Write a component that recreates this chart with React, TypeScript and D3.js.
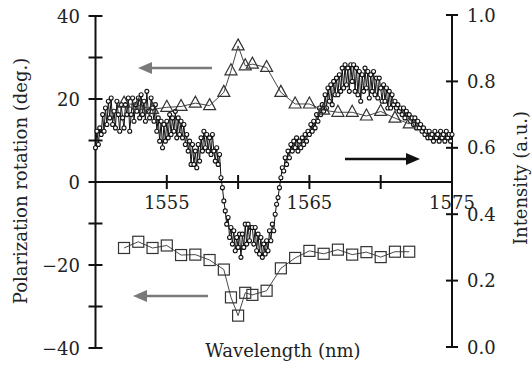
import React, { useEffect, useRef } from "react";
import * as d3 from "d3";

// wavelengths (nm) of the polarization-rotation markers
const markerWavelengths = [
  1552, 1553, 1554, 1555, 1556, 1557, 1558, 1559, 1559.5, 1560, 1560.5, 1561,
  1562, 1563, 1564, 1565, 1566, 1567, 1568, 1569, 1570, 1571, 1572,
];
// triangles, deg.
const rotationTriangles = [
  19.0, 18.5, 17.5, 18.0, 18.2, 19.0, 18.4, 21.6, 26.8, 32.8, 28.0, 28.4, 27.6,
  21.6, 18.8, 18.8, 17.3, 16.8, 16.8, 15.9, 17.0, 15.4, 14.0,
];
// squares, deg.
const rotationSquares = [
  -15.9, -14.4, -15.9, -15.3, -17.6, -17.5, -18.8, -21.1, -27.8, -32.2, -26.7,
  -27.2, -26.2, -20.8, -18.3, -16.6, -17.3, -16.3, -17.5, -16.9, -18.1, -16.8,
  -16.8,
];

// transmitted intensity scan, 1550 -> 1575 nm every 0.1 nm
const scanStart = 1550;
const scanStep = 0.1;
const scanIntensity = [
  0.60, 0.65, 0.61, 0.66, 0.64, 0.70, 0.65, 0.72, 0.67, 0.74, // 1550
  0.69, 0.75, 0.67, 0.71, 0.66, 0.74, 0.70, 0.65, 0.73, 0.69, // 1551
  0.66, 0.73, 0.70, 0.75, 0.65, 0.70, 0.75, 0.68, 0.73, 0.71, // 1552
  0.75, 0.69, 0.76, 0.70, 0.74, 0.68, 0.77, 0.71, 0.69, 0.75, // 1553
  0.72, 0.68, 0.73, 0.65, 0.69, 0.62, 0.68, 0.60, 0.67, 0.62, // 1554
  0.68, 0.63, 0.70, 0.64, 0.69, 0.65, 0.71, 0.63, 0.69, 0.64, // 1555
  0.68, 0.63, 0.67, 0.61, 0.64, 0.59, 0.62, 0.55, 0.61, 0.55, // 1556
  0.59, 0.54, 0.61, 0.56, 0.63, 0.59, 0.65, 0.60, 0.64, 0.59, // 1557
  0.63, 0.58, 0.64, 0.59, 0.56, 0.60, 0.55, 0.58, 0.51, 0.48, // 1558
  0.44, 0.41, 0.37, 0.39, 0.33, 0.36, 0.31, 0.35, 0.29, 0.33, // 1559
  0.30, 0.34, 0.27, 0.34, 0.30, 0.37, 0.31, 0.37, 0.32, 0.36, // 1560
  0.36, 0.31, 0.36, 0.29, 0.34, 0.28, 0.33, 0.27, 0.31, 0.28, // 1561
  0.32, 0.29, 0.35, 0.32, 0.37, 0.35, 0.40, 0.43, 0.45, 0.48, // 1562
  0.51, 0.54, 0.53, 0.57, 0.55, 0.59, 0.57, 0.61, 0.59, 0.62, // 1563
  0.60, 0.63, 0.59, 0.62, 0.60, 0.63, 0.61, 0.64, 0.62, 0.65, // 1564
  0.64, 0.67, 0.65, 0.68, 0.66, 0.70, 0.68, 0.72, 0.70, 0.73, // 1565
  0.71, 0.76, 0.72, 0.78, 0.74, 0.79, 0.73, 0.80, 0.76, 0.81, // 1566
  0.76, 0.82, 0.77, 0.84, 0.78, 0.85, 0.79, 0.84, 0.77, 0.85, // 1567
  0.80, 0.85, 0.77, 0.84, 0.76, 0.83, 0.74, 0.82, 0.77, 0.84, // 1568
  0.78, 0.83, 0.75, 0.82, 0.77, 0.83, 0.76, 0.81, 0.75, 0.81, // 1569
  0.78, 0.74, 0.79, 0.74, 0.78, 0.72, 0.77, 0.72, 0.76, 0.73, // 1570
  0.74, 0.72, 0.73, 0.71, 0.72, 0.70, 0.72, 0.69, 0.71, 0.70, // 1571
  0.70, 0.68, 0.69, 0.67, 0.69, 0.66, 0.68, 0.66, 0.67, 0.65, // 1572
  0.66, 0.64, 0.65, 0.63, 0.65, 0.63, 0.64, 0.62, 0.65, 0.63, // 1573
  0.64, 0.62, 0.65, 0.63, 0.64, 0.62, 0.65, 0.63, 0.64, 0.62, // 1574
  0.64,
];

const rotationTicks = [-40, -30, -20, -10, 0, 10, 20, 30, 40];
const rotationLabels = [-40, -20, 0, 20, 40];
const intensityTicks = [0, 0.2, 0.4, 0.6, 0.8, 1.0];
const wavelengthTicks = [1555, 1560, 1565, 1570, 1575];
const wavelengthLabels = [1555, 1565, 1575];

const FONT = "'DejaVu Serif', 'Liberation Serif', serif";

export default function App() {
  const svgRef = useRef<SVGSVGElement>(null);

  useEffect(() => {
    const svg = d3.select(svgRef.current);
    svg.selectAll("*").remove();

    const x = d3.scaleLinear().domain([1550, 1575]).range([95.5, 452]);
    const yL = d3.scaleLinear().domain([-40, 40]).range([348, 16]);
    const yR = d3.scaleLinear().domain([0, 1]).range([347, 15]);

    const scan = scanIntensity.map((v, i) => ({ wl: scanStart + i * scanStep, v }));
    const tri = markerWavelengths.map((wl, i) => ({ wl, v: rotationTriangles[i] }));
    const sq = markerWavelengths.map((wl, i) => ({ wl, v: rotationSquares[i] }));

    // axes
    const axes = svg.append("g").attr("stroke", "#111").attr("stroke-width", 2);
    axes.append("line").attr("x1", x(1550)).attr("x2", x(1550)).attr("y1", yL(40)).attr("y2", yL(-40));
    axes.append("line").attr("x1", x(1575)).attr("x2", x(1575)).attr("y1", yR(1)).attr("y2", yR(0));
    axes.append("line").attr("x1", x(1550)).attr("x2", x(1575)).attr("y1", yL(0)).attr("y2", yL(0));

    axes.selectAll(".tl").data(rotationTicks).join("line")
      .attr("x1", x(1550) - 7).attr("x2", x(1550) + 7)
      .attr("y1", (d) => yL(d)).attr("y2", (d) => yL(d));
    axes.selectAll(".tr").data(intensityTicks).join("line")
      .attr("x1", x(1575) - 6).attr("x2", x(1575) + 6)
      .attr("y1", (d) => yR(d)).attr("y2", (d) => yR(d));
    axes.selectAll(".tx").data(wavelengthTicks).join("line")
      .attr("x1", (d) => x(d)).attr("x2", (d) => x(d))
      .attr("y1", yL(0) - 7).attr("y2", yL(0) + 7);

    const labels = svg.append("g").attr("font-family", FONT).attr("font-size", 18).attr("fill", "#222");
    labels.selectAll(".ll").data(rotationLabels).join("text")
      .attr("x", 80).attr("y", (d) => yL(d) + 6.5).attr("text-anchor", "end")
      .text((d) => (d < 0 ? "\u2212" + Math.abs(d) : String(d)));
    labels.selectAll(".rl").data(intensityTicks).join("text")
      .attr("x", 467).attr("y", (d) => yR(d) + 6.5)
      .text((d) => d.toFixed(1));
    labels.selectAll(".xl").data(wavelengthLabels).join("text")
      .attr("x", (d) => x(d)).attr("y", 209).attr("text-anchor", "middle")
      .text((d) => String(d));

    labels.append("text").attr("transform", "translate(27,181) rotate(-90)")
      .attr("text-anchor", "middle").text("Polarization rotation (deg.)");
    labels.append("text").attr("transform", "translate(527,178) rotate(-90)")
      .attr("text-anchor", "middle").text("Intensity (a.u.)");
    labels.append("text").attr("x", 283).attr("y", 357)
      .attr("text-anchor", "middle").text("Wavelength (nm)");

    // intensity scan: open circles joined by a line
    const lineR = d3.line<{ wl: number; v: number }>().x((d) => x(d.wl)).y((d) => yR(d.v));
    svg.append("path").datum(scan).attr("d", lineR)
      .attr("fill", "none").attr("stroke", "#111").attr("stroke-width", 1);
    svg.append("g").selectAll("circle").data(scan).join("circle")
      .attr("cx", (d) => x(d.wl)).attr("cy", (d) => yR(d.v)).attr("r", 2)
      .attr("fill", "white").attr("stroke", "#111").attr("stroke-width", 1.1);

    // rotation markers
    const lineL = d3.line<{ wl: number; v: number }>().x((d) => x(d.wl)).y((d) => yL(d.v));
    svg.append("path").datum(tri).attr("d", lineL)
      .attr("fill", "none").attr("stroke", "#333").attr("stroke-width", 0.9);
    svg.append("g").selectAll("path").data(tri).join("path")
      .attr("d", (d) => {
        const cx = x(d.wl), cy = yL(d.v);
        return `M${cx},${cy - 7}L${cx + 6},${cy + 4}L${cx - 6},${cy + 4}Z`;
      })
      .attr("fill", "none").attr("stroke", "#333").attr("stroke-width", 1.2);

    svg.append("path").datum(sq).attr("d", lineL)
      .attr("fill", "none").attr("stroke", "#333").attr("stroke-width", 0.9);
    svg.append("g").selectAll("rect").data(sq).join("rect")
      .attr("x", (d) => x(d.wl) - 5.5).attr("y", (d) => yL(d.v) - 5.5)
      .attr("width", 11).attr("height", 11)
      .attr("fill", "none").attr("stroke", "#333").attr("stroke-width", 1.2);

    // direction arrows
    const arrow = (x1: number, x2: number, y: number, color: string) => {
      const dir = Math.sign(x2 - x1);
      svg.append("line").attr("x1", x1).attr("x2", x2 - dir * 10).attr("y1", y).attr("y2", y)
        .attr("stroke", color).attr("stroke-width", 2.5);
      svg.append("path")
        .attr("d", `M${x2},${y}L${x2 - dir * 14},${y - 6}L${x2 - dir * 14},${y + 6}Z`)
        .attr("fill", color);
    };
    arrow(212, 138, 68, "#7a7a7a");
    arrow(208, 133, 296, "#7a7a7a");
    arrow(345, 420, 159, "#111");
  }, []);

  return (
    <div style={{ position: "absolute", left: 0, top: 0 }}>
      <svg ref={svgRef} width={532} height={366} style={{ display: "block", background: "white" }} />
    </div>
  );
}
